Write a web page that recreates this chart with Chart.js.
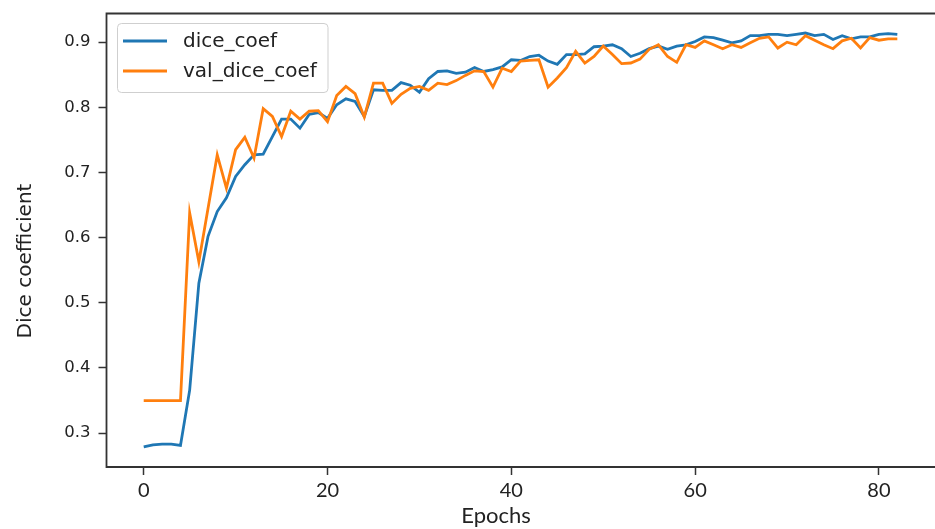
<!DOCTYPE html>
<html>
<head>
<meta charset="utf-8">
<title>Dice coefficient</title>
<script src="https://cdn.jsdelivr.net/npm/chart.js@4.4.1/dist/chart.umd.min.js"></script>
<style>
  html, body { margin: 0; padding: 0; background: #ffffff; overflow: hidden; }
  canvas { display: block; }
</style>
</head>
<body>
<canvas id="chart-dice" width="935" height="529"></canvas>
<script>
'use strict';

// ─── Datos ────────────────────────────────────────────────────────────────────

const diceCoef = [
  0.279, 0.282, 0.283, 0.283, 0.281, 0.366, 0.530, 0.602, 0.640, 0.661,
  0.694, 0.712, 0.727, 0.728, 0.755, 0.782, 0.782, 0.768, 0.789, 0.792,
  0.783, 0.804, 0.813, 0.809, 0.786, 0.827, 0.826, 0.826, 0.838, 0.834,
  0.823, 0.844, 0.855, 0.856, 0.852, 0.854, 0.861, 0.855, 0.858, 0.862,
  0.873, 0.872, 0.878, 0.880, 0.871, 0.866, 0.881, 0.881, 0.882, 0.893,
  0.894, 0.896, 0.890, 0.878, 0.883, 0.890, 0.894, 0.889, 0.894, 0.896,
  0.901, 0.908, 0.907, 0.903, 0.899, 0.902, 0.910, 0.910, 0.912, 0.912,
  0.910, 0.912, 0.914, 0.910, 0.912, 0.904, 0.910, 0.905, 0.908, 0.908,
  0.912, 0.913, 0.912,
];

const valDiceCoef = [
  0.350, 0.350, 0.350, 0.350, 0.350, 0.638, 0.563, 0.645, 0.727, 0.676,
  0.735, 0.754, 0.722, 0.798, 0.786, 0.755, 0.794, 0.782, 0.794, 0.795,
  0.778, 0.818, 0.832, 0.821, 0.785, 0.837, 0.837, 0.806, 0.820, 0.829,
  0.832, 0.826, 0.837, 0.835, 0.841, 0.849, 0.856, 0.855, 0.831, 0.860,
  0.855, 0.871, 0.872, 0.873, 0.831, 0.845, 0.861, 0.886, 0.868, 0.878,
  0.894, 0.881, 0.867, 0.868, 0.874, 0.889, 0.896, 0.878, 0.869, 0.896,
  0.892, 0.902, 0.896, 0.890, 0.896, 0.892, 0.899, 0.906, 0.908, 0.891,
  0.900, 0.896, 0.910, 0.903, 0.896, 0.890, 0.902, 0.906, 0.891, 0.907,
  0.903, 0.905, 0.905,
];

const seriesLabels = ['dice_coef', 'val_dice_coef'];
const xTicks = [0, 20, 40, 60, 80];
const yTicks = [0.3, 0.4, 0.5, 0.6, 0.7, 0.8, 0.9];
const xTitle = 'Epochs';
const yTitle = 'Dice coefficient';

// ─── Paleta y medidas ─────────────────────────────────────────────────────────

const C = {
  blue:   '#1f77b4',
  orange: '#ff7f0e',
  axis:   '#333333',
  text:   '#222222',
  frame:  '#cfcfcf',
};

const AREA = { left: 106.5, top: 13.5, bottom: 467 };

function toPoints(values) {
  return values.map(function(v, i) { return { x: i, y: v }; });
}

// ─── Plugins propios ──────────────────────────────────────────────────────────

// Ejes tipo matplotlib: izquierda, abajo y arriba
const spines = {
  id: 'spines',
  afterDatasetsDraw(chart) {
    const { ctx, chartArea: a } = chart;
    ctx.save();
    ctx.strokeStyle = C.axis;
    ctx.lineWidth = 1.8;
    ctx.beginPath();
    ctx.moveTo(a.right + 2, a.top);
    ctx.lineTo(a.left, a.top);
    ctx.lineTo(a.left, a.bottom);
    ctx.lineTo(a.right + 2, a.bottom);
    ctx.stroke();
    ctx.restore();
  },
};

// Leyenda dentro del area, arriba a la izquierda
const legendInside = {
  id: 'legendInside',
  afterDraw(chart) {
    const ctx = chart.ctx;
    const x = 117.5, y = 23.5, w = 210.5, h = 69;
    ctx.save();
    ctx.beginPath();
    ctx.roundRect(x, y, w, h, 4);
    ctx.fillStyle = 'rgba(255,255,255,0.85)';
    ctx.fill();
    ctx.strokeStyle = C.frame;
    ctx.lineWidth = 1;
    ctx.stroke();

    chart.data.datasets.forEach(function(ds, i) {
      const ly = 41 + i * 30;
      ctx.strokeStyle = ds.borderColor;
      ctx.lineWidth = 2.8;
      ctx.beginPath();
      ctx.moveTo(123, ly);
      ctx.lineTo(167, ly);
      ctx.stroke();
      ctx.fillStyle = C.text;
      ctx.font = "20px 'DejaVu Sans'";
      ctx.textBaseline = 'middle';
      ctx.textAlign = 'left';
      ctx.fillText(ds.label, 183, ly + 1);
    });
    ctx.restore();
  },
};

// Titulos de los ejes
const axisTitles = {
  id: 'axisTitles',
  afterDraw(chart) {
    const ctx = chart.ctx;
    ctx.save();
    ctx.fillStyle = C.text;
    ctx.textAlign = 'center';
    ctx.textBaseline = 'middle';
    ctx.font = "22px Lato";
    ctx.fillText(xTitle, 496, 516);
    ctx.translate(26, 261);
    ctx.rotate(-Math.PI / 2);
    ctx.font = "20px 'DejaVu Sans'";
    ctx.fillText(yTitle, 0, 0);
    ctx.restore();
  },
};

// ─── Grafica ──────────────────────────────────────────────────────────────────

const tickGrid = {
  drawOnChartArea: false,
  drawTicks: true,
  tickLength: 8,
  tickWidth: 1.5,
  tickColor: C.axis,
};

new Chart(document.getElementById('chart-dice').getContext('2d'), {
  type: 'line',
  data: {
    datasets: [
      {
        label: seriesLabels[0],
        data: toPoints(diceCoef),
        borderColor: C.blue,
        borderWidth: 2.8,
        pointRadius: 0,
        tension: 0,
        fill: false,
        order: 1,
      },
      {
        label: seriesLabels[1],
        data: toPoints(valDiceCoef),
        borderColor: C.orange,
        borderWidth: 2.8,
        pointRadius: 0,
        tension: 0,
        fill: false,
        order: 0,
      },
    ],
  },
  options: {
    responsive: false,
    animation: false,
    layout: { padding: { left: 0, top: AREA.top, right: 0, bottom: 0 } },
    plugins: {
      legend: { display: false },
      tooltip: { enabled: false },
    },
    scales: {
      x: {
        type: 'linear',
        min: -4.05,
        max: 86.1,
        afterFit(scale) {
          scale.height = 529 - AREA.bottom;
          scale.paddingLeft = 0;
          scale.paddingRight = 0;
        },
        afterBuildTicks(scale) { scale.ticks = xTicks.map(function(v) { return { value: v }; }); },
        grid: tickGrid,
        border: { display: false },
        ticks: {
          color: C.text,
          font: { family: 'Lato', size: 20 },
          padding: 4,
          maxRotation: 0,
          autoSkip: false,
          callback: function(v) { return String(v); },
        },
      },
      y: {
        type: 'linear',
        min: 0.248,
        max: 0.944,
        afterFit(scale) {
          scale.width = AREA.left;
          scale.paddingTop = 0;
          scale.paddingBottom = 0;
        },
        afterBuildTicks(scale) { scale.ticks = yTicks.map(function(v) { return { value: v }; }); },
        grid: tickGrid,
        border: { display: false },
        ticks: {
          color: C.text,
          font: { family: 'DejaVu Sans', size: 16.5 },
          padding: 8,
          autoSkip: false,
          callback: function(v) { return v.toFixed(1); },
        },
      },
    },
  },
  plugins: [spines, legendInside, axisTitles],
});
</script>
</body>
</html>
